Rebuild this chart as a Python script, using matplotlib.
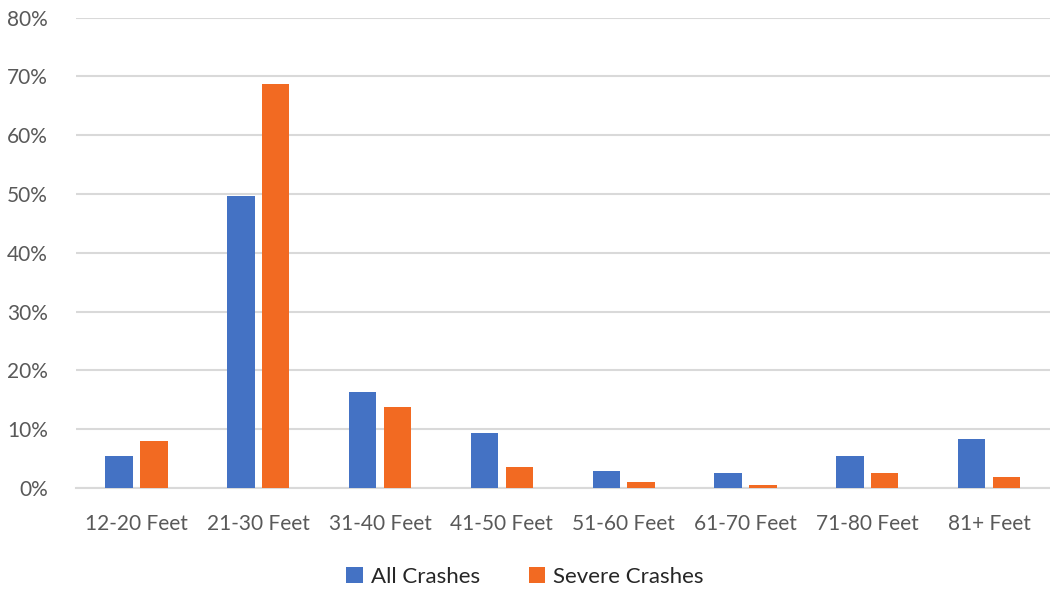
import matplotlib.pyplot as plt
import numpy as np
from matplotlib.ticker import PercentFormatter

categories = ["12-20 Feet", "21-30 Feet", "31-40 Feet", "41-50 Feet",
              "51-60 Feet", "61-70 Feet", "71-80 Feet", "81+ Feet"]
all_crashes = [5.4, 49.7, 16.4, 9.3, 2.9, 2.6, 5.4, 8.3]
severe_crashes = [7.9, 68.8, 13.7, 3.6, 1.0, 0.5, 2.6, 1.8]

BLUE = "#4472c4"
ORANGE = "#f26a22"
GRID = "#d9d9d9"
TEXT = "#595959"

plt.rcParams['font.family'] = ['Lato', 'DejaVu Sans']

fig = plt.figure(figsize=(10.5, 5.9), dpi=100)
ax = fig.add_axes([0.072, 0.173, 0.928, 0.797])

x = np.arange(len(categories))
width = 0.225
gap = 0.03
ax.bar(x - width / 2 - gap, all_crashes, width, color=BLUE, label="All Crashes", zorder=3)
ax.bar(x + width / 2 + gap, severe_crashes, width, color=ORANGE, label="Severe Crashes", zorder=3)

ax.set_xlim(-0.5, len(categories) - 0.5)
ax.set_ylim(0, 80)
ax.set_yticks(range(0, 81, 10))
ax.yaxis.set_major_formatter(PercentFormatter(decimals=0))
ax.set_xticks(x)
ax.set_xticklabels(categories)

ax.grid(axis='y', color=GRID, linewidth=1.5, zorder=0)
for side in ['top', 'right', 'left']:
    ax.spines[side].set_visible(False)
ax.spines['bottom'].set_color(GRID)
ax.spines['bottom'].set_linewidth(1.5)
ax.tick_params(axis='both', length=0, labelsize=15, colors=TEXT)
ax.tick_params(axis='x', pad=19)
ax.tick_params(axis='y', pad=20)

fig.legend(loc='lower center', bbox_to_anchor=(0.5, -0.028), ncol=2, frameon=False,
           fontsize=16, handlelength=0.75, handleheight=0.75, columnspacing=2.2,
           handletextpad=0.35, labelcolor='#262626')

fig.savefig("out.png", dpi=100)
